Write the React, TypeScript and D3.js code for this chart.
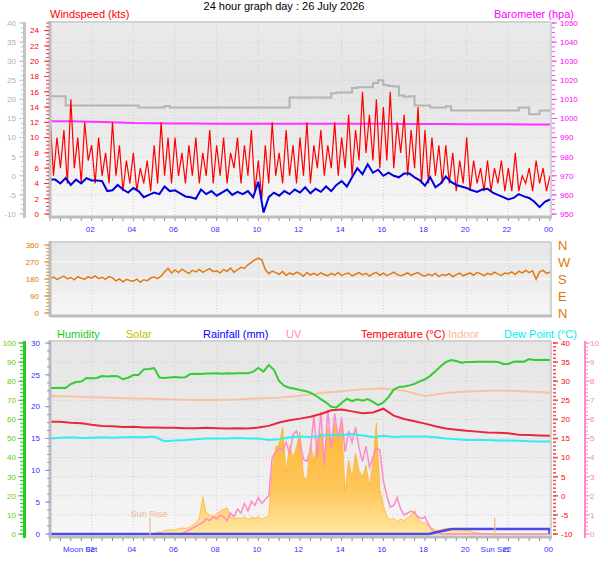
import React from 'react';
import * as d3 from 'd3';

const FONT = '"Liberation Sans", Arial, sans-serif';

// x axis (hours)
const hourTicks = [2, 4, 6, 8, 10, 12, 14, 16, 18, 20, 22, 24];
const hourLabels = ['02', '04', '06', '08', '10', '12', '14', '16', '18', '20', '22', '00'];

// axis tick values
const greyTicks = [-10, -5, 0, 5, 10, 15, 20, 25, 30, 35, 40];
const windTicks = [0, 2, 4, 6, 8, 10, 12, 14, 16, 18, 20, 22, 24];
const baroTicks = [950, 960, 970, 980, 990, 1000, 1010, 1020, 1030, 1040, 1050];
const dirTicks = [0, 90, 180, 270, 360];
const dirLetters = ['N', 'E', 'S', 'W', 'N'];
const humTicks = [0, 10, 20, 30, 40, 50, 60, 70, 80, 90, 100];
const rainTicks = [0, 5, 10, 15, 20, 25, 30];
const tempTicks = [-10, -5, 0, 5, 10, 15, 20, 25, 30, 35, 40];
const uvTicks = [0, 1, 2, 3, 4, 5, 6, 7, 8, 9, 10];

// windspeed (kts), every 10 minutes
const windGust = [
  13, 5, 10, 6, 11, 4,
  15, 6, 10, 4, 12, 7,
  9, 4, 10, 5, 8, 4,
  12, 5, 9, 3, 7, 4,
  8, 3, 6, 4, 7, 3,
  9, 4, 12, 5, 10, 4,
  10, 5, 8, 4, 9, 5,
  10, 4, 8, 5, 11, 4,
  9, 5, 10, 4, 8, 6,
  10, 4, 9, 5, 11, 3,
  7, 2, 9, 4, 12, 5,
  8, 4, 11, 5, 9, 4,
  10, 5, 12, 4, 9, 6,
  11, 5, 9, 6, 12, 5,
  10, 6, 13, 5, 11, 7,
  16, 8, 13, 7, 15, 6,
  14, 7, 16, 6, 12, 8,
  13, 5, 11, 6, 14, 4,
  11, 4, 10, 5, 9, 4,
  9, 4, 8, 3, 7, 4,
  10, 3, 7, 4, 6, 3,
  7, 3, 6, 4, 7, 3,
  6, 3, 8, 3, 5, 4,
  6, 3, 7, 4, 6, 3,
  5,
];

// average windspeed (kts), every 15 minutes
const windAvg = [
  4.5, 4.5, 4.0, 4.7, 3.8, 4.5, 4.0, 4.7, 4.4, 4.4, 4.3, 3.0,
  3.1, 3.8, 3.2, 2.8, 3.4, 3.0, 2.2, 2.5, 2.8, 2.6, 3.6, 3.0,
  3.1, 2.7, 2.3, 2.2, 2.0, 3.2, 2.6, 3.0, 2.4, 2.8, 3.2, 2.5,
  2.9, 2.6, 3.0, 2.2, 4.2, 0.2, 2.2, 2.8, 2.4, 3.0, 2.6, 3.2,
  2.8, 3.5, 2.7, 3.3, 2.9, 3.6, 3.0, 3.8, 4.3, 3.6, 4.8, 6.0,
  5.2, 6.5, 5.4, 5.8, 5.0, 5.4, 5.0, 4.8, 5.3, 5.3, 4.8, 4.4,
  3.7, 4.8, 3.5, 4.0, 4.9, 4.2, 3.8, 3.6, 3.4, 3.1, 2.9, 3.2,
  3.3, 2.8, 2.5, 2.2, 1.9, 2.1, 2.6, 2.3, 2.1, 1.6, 0.9, 1.6,
  1.9,
];

// grey trace on the outer left scale, every 15 minutes
const greyTrace = [
  20.8, 20.8, 20.8, 18.4, 18.4, 18.4, 18.4, 18.4, 18.4, 18.4, 18.4, 18.4,
  18.4, 18.4, 18.4, 18.4, 18.4, 17.9, 17.9, 17.9, 17.9, 17.9, 18.3, 17.9,
  17.9, 17.9, 17.9, 17.9, 17.9, 17.9, 17.9, 17.9, 17.9, 17.9, 17.9, 17.9,
  17.9, 17.9, 17.9, 17.9, 17.9, 17.9, 17.9, 17.9, 17.9, 17.9, 20.5, 20.5,
  20.5, 20.5, 20.5, 20.5, 20.5, 20.5, 21.6, 21.8, 21.8, 21.8, 23.0, 23.2,
  23.2, 23.2, 24.3, 25.0, 23.8, 23.5, 23.4, 21.0, 20.7, 20.8, 18.4, 18.4,
  18.4, 17.9, 17.9, 17.9, 18.2, 17.1, 17.1, 17.1, 17.1, 17.1, 17.1, 17.1,
  17.1, 17.1, 17.1, 17.1, 17.1, 17.1, 17.9, 17.9, 16.1, 16.1, 17.1, 17.1,
  17.1,
];

// barometer (hpa), hourly
const baro = [
  998.6, 998.5, 998.3, 998.0, 997.6, 997.5, 997.4, 997.4, 997.3, 997.3, 997.3, 997.2,
  997.2, 997.2, 997.3, 997.2, 997.2, 997.1, 997.1, 997.1, 997.0, 997.0, 997.0, 996.9,
  996.9,
];

// wind direction (degrees), every 10 minutes
const windDir = [
  183, 190, 178, 186, 195, 180,
  188, 176, 192, 184, 179, 191,
  185, 196, 182, 189, 178, 193,
  186, 170, 181, 165, 178, 172,
  168, 180, 163, 176, 171, 185,
  190, 182, 195, 218, 236, 212,
  228, 214, 232, 220, 209, 226,
  218, 231, 215, 226, 235, 219,
  224, 212, 230, 221, 238, 216,
  229, 242, 236, 255, 268, 282,
  290, 282, 230, 208, 222, 214,
  205, 219, 198, 212, 203, 216,
  208, 195, 214, 201, 210, 199,
  213, 204, 197, 210, 200, 215,
  198, 207, 212, 196, 205, 214,
  202, 210, 196, 208, 215, 200,
  211, 198, 206, 216, 203, 197,
  204, 212, 199, 208, 214, 201,
  195, 206, 198, 210, 193, 204,
  199, 208, 192, 203, 211, 197,
  205, 212, 200, 215, 207, 198,
  210, 203, 216, 206, 199, 212,
  208, 218, 204, 221, 212, 226,
  214, 224, 178, 218, 226, 210,
  216,
];

// humidity (%), every 15 minutes
const humidity = [
  76.4, 76.4, 76.6, 76.4, 78.5, 79.6, 79.8, 81.7, 81.5, 81.7, 82.7, 82.5,
  82.7, 82.6, 81.0, 81.8, 83.2, 83.3, 86.2, 86.4, 86.9, 81.9, 81.7, 82.0,
  82.2, 81.9, 82.1, 83.8, 83.9, 83.8, 84.0, 84.0, 84.1, 83.9, 84.1, 84.0,
  84.1, 84.2, 84.1, 85.0, 86.9, 85.0, 88.5, 86.0, 80.0, 77.5, 76.6, 76.0,
  75.4, 74.9, 74.0, 72.5, 70.6, 68.8, 66.6, 66.2, 68.6, 70.8, 69.6, 70.5,
  69.8, 70.6, 69.2, 67.5, 68.9, 71.7, 75.6, 77.0, 77.2, 77.8, 78.6, 79.9,
  81.0, 82.8, 85.2, 87.8, 90.0, 91.1, 90.6, 89.7, 90.0, 90.0, 90.2, 90.2,
  90.2, 90.2, 90.1, 89.0, 89.0, 90.2, 90.3, 90.2, 91.6, 91.1, 91.1, 91.2,
  91.1,
];

// indoor temperature (°C), hourly
const indoor = [
  26.1, 26.0, 25.8, 25.7, 25.5, 25.4, 25.2, 25.1, 25.1, 25.2, 25.5, 25.7,
  26.2, 26.9, 27.4, 27.9, 28.1, 27.5, 26.1, 26.9, 27.3, 27.5, 27.5, 27.3,
  27.0,
];

// outdoor temperature (°C), every 30 minutes
const temperature = [
  19.4, 19.4, 19.1, 19.0, 18.6, 18.3, 18.2, 18.0, 18.1, 17.9, 17.9, 17.8,
  17.8, 17.7, 17.7, 17.8, 17.7, 17.6, 17.7, 17.6, 17.9, 18.3, 19.2, 19.8,
  20.2, 20.7, 21.4, 22.4, 22.6, 22.1, 21.6, 21.8, 22.8, 21.0, 20.1, 19.5,
  18.9, 18.2, 17.6, 17.3, 17.0, 16.8, 16.6, 16.5, 16.4, 16.0, 15.9, 15.8,
  15.7,
];

// dew point (°C), every 30 minutes
const dewPoint = [
  15.0, 15.2, 15.3, 15.1, 15.2, 15.3, 15.2, 15.3, 15.4, 15.3, 15.5, 14.3,
  14.5, 14.6, 14.8, 15.0, 15.0, 15.0, 15.1, 15.0, 15.0, 14.6, 14.8, 15.3,
  15.5, 15.4, 15.7, 15.9, 15.9, 16.2, 15.8, 15.4, 15.7, 15.4, 15.5, 15.5,
  15.5, 15.3, 15.0, 14.8, 14.6, 14.6, 14.6, 14.5, 14.5, 14.4, 14.3, 14.2,
  14.2,
];

// solar (W/m²), every 10 minutes
const solar = [
  0, 0, 0, 0, 0, 0,
  0, 0, 0, 0, 0, 0,
  0, 0, 0, 0, 0, 0,
  0, 0, 0, 0, 0, 0,
  0, 0, 0, 0, 0, 0,
  0, 12, 8, 18, 21, 22,
  20, 28, 31, 30, 33, 45,
  57, 80, 194, 110, 100, 92,
  105, 118, 130, 136, 90, 78,
  85, 80, 92, 75, 88, 82,
  90, 78, 86, 95, 335, 455,
  470, 560, 320, 462, 400, 455,
  534, 300, 283, 470, 380, 492,
  529, 400, 560, 450, 581, 480,
  581, 215, 387, 290, 424, 330,
  298, 360, 250, 372, 581, 230,
  150, 90, 75, 82, 65, 78,
  70, 85, 95, 125, 80, 60,
  57, 45, 30, 22, 18, 25,
  28, 30, 26, 24, 27, 22,
  18, 15, 10, 6, 4, 3,
  2, 2, 1, 0, 0, 0,
  0, 0, 0, 0, 0, 0,
  0, 0, 0, 0, 0, 0,
  0,
];

// UV index, every 10 minutes
const uv = [
  0, 0, 0, 0, 0, 0,
  0, 0, 0, 0, 0, 0,
  0, 0, 0, 0, 0, 0,
  0, 0, 0, 0, 0, 0,
  0, 0, 0, 0, 0, 0,
  0, 0, 0, 0, 0, 0,
  0, 0, 0, 0.1, 0.2, 0.3,
  0.4, 0.5, 0.6, 0.8, 0.7, 0.9,
  0.8, 1.0, 0.9, 0.7, 1.1, 0.9,
  1.3, 1.1, 1.6, 1.2, 1.7, 1.5,
  1.9, 1.6, 1.8, 2.0, 4.0, 4.3,
  4.5, 4.4, 4.8, 4.2, 5.2, 5.4,
  4.8, 3.9, 3.8, 4.4, 6.2, 4.0,
  6.4, 3.6, 6.5, 4.5, 6.3, 5.0,
  6.1, 4.3, 5.4, 4.8, 5.6, 4.5,
  3.8, 4.6, 3.5, 4.0, 4.5, 4.4,
  2.8, 2.0, 1.4, 1.5, 1.9, 1.3,
  1.0, 1.1, 1.2, 1.1, 0.9, 0.8,
  0.9, 0.5, 0.2, 0.1, 0.05, 0,
  0, 0, 0, 0, 0, 0,
  0, 0, 0, 0, 0, 0,
  0, 0, 0, 0, 0, 0,
  0, 0, 0, 0, 0, 0,
  0, 0, 0, 0, 0, 0,
  0,
];

// rainfall (mm) breakpoints
const rainHours = [0, 18.2, 18.6, 19.0, 19.3, 23.95, 24];
const rainMm = [0, 0, 0.3, 0.6, 0.8, 0.8, 0];

// sun / moon events (hours)
const sunRise = 4.8;
const sunSet = 21.35;
const moonSet = 1.45;

type P = [number, number];
type Scale = d3.ScaleLinear<number, number>;

const pts = (vals: number[], step: number): P[] => vals.map((v, i) => [i * step, v]);

function VAxis({
  scale, major, minorStep, majorX, minorX, tickColor, tickWidth = 1,
  labelX, anchor, labelColor, fontSize = 8, labels,
}: {
  scale: Scale; major: number[]; minorStep: number; majorX: [number, number]; minorX: [number, number];
  tickColor: string; tickWidth?: number; labelX: number; anchor: 'start' | 'end';
  labelColor: string; fontSize?: number; labels?: string[];
}) {
  const [lo, hi] = scale.domain();
  const minor = d3.range(lo, hi + 1e-9, minorStep);
  return (
    <g>
      {minor.map((v, i) => (
        <line key={'m' + i} x1={minorX[0]} x2={minorX[1]} y1={scale(v)} y2={scale(v)} stroke={tickColor} strokeWidth={tickWidth} />
      ))}
      {major.map((v, i) => (
        <line key={'M' + i} x1={majorX[0]} x2={majorX[1]} y1={scale(v)} y2={scale(v)} stroke={tickColor} strokeWidth={tickWidth} />
      ))}
      {major.map((v, i) => (
        <text key={'t' + i} x={labelX} y={scale(v)} dy="0.35em" textAnchor={anchor} fill={labelColor} fontSize={fontSize}>
          {labels ? labels[i] : v}
        </text>
      ))}
    </g>
  );
}

const PL = 50;
const PR = 551;

function Frame({ y0, y1 }: { y0: number; y1: number }) {
  return (
    <g>
      <line x1={PL} x2={PR} y1={y0} y2={y0} stroke="#d2d2d2" strokeWidth={2} />
      <line x1={PR} x2={PR} y1={y0} y2={y1} stroke="#d2d2d2" strokeWidth={2} />
      <line x1={PL} x2={PL} y1={y0 - 1} y2={y1 + 1} stroke="#bdbdbd" strokeWidth={3} />
      <line x1={PL} x2={PR + 1} y1={y1} y2={y1} stroke="#bdbdbd" strokeWidth={3} />
    </g>
  );
}

export default function App() {
  const x = d3.scaleLinear().domain([0, 24]).range([50, 550]);

  // panel 1
  const T0 = 22, B0 = 217;
  const yWind = d3.scaleLinear().domain([0, 25]).range([214, 23]);
  const yGrey = d3.scaleLinear().domain([-10, 40]).range([214, 23]);
  const yBaro = d3.scaleLinear().domain([950, 1050]).range([214, 23]);

  // panel 2
  const T1 = 242, B1 = 316;
  const yDir = d3.scaleLinear().domain([0, 360]).range([313, 245]);

  // panel 3
  const T2 = 341, B2 = 537;
  const yHum = d3.scaleLinear().domain([0, 100]).range([534, 343]);
  const yRain = d3.scaleLinear().domain([0, 30]).range([534, 343]);
  const yTemp = d3.scaleLinear().domain([-10, 40]).range([534, 343]);
  const yUV = d3.scaleLinear().domain([0, 10]).range([534, 343]);
  const ySolar = d3.scaleLinear().domain([0, 1000]).range([534, 343]);

  const line = (ys: Scale, curve: d3.CurveFactory = d3.curveLinear) =>
    d3.line<P>().x(d => x(d[0])).y(d => ys(d[1])).curve(curve);

  const solarArea = d3.area<P>().x(d => x(d[0])).y0(ySolar(0)).y1(d => ySolar(d[1]));

  const halfHours = d3.range(0, 24.01, 0.5);
  const gridHours = hourTicks;

  return (
    <div style={{ position: 'absolute', left: 0, top: 0 }}>
      <svg width={608} height={561} style={{ display: 'block', background: '#ffffff', fontFamily: FONT }}>
        <defs>
          <linearGradient id="bg1" x1="0" y1="0" x2="0" y2="1">
            <stop offset="0" stopColor="#ebebeb" />
            <stop offset="0.3" stopColor="#e3e3e3" />
            <stop offset="0.6" stopColor="#ececec" />
            <stop offset="1" stopColor="#f8f8f8" />
          </linearGradient>
          <linearGradient id="bg2" x1="0" y1="0" x2="0" y2="1">
            <stop offset="0" stopColor="#e6e6e6" />
            <stop offset="0.5" stopColor="#ebebeb" />
            <stop offset="1" stopColor="#f7f7f7" />
          </linearGradient>
          <linearGradient id="solarFill" gradientUnits="userSpaceOnUse" x1="0" y1="420" x2="0" y2="534">
            <stop offset="0" stopColor="#ffb634" />
            <stop offset="0.6" stopColor="#ffc65a" />
            <stop offset="1" stopColor="#ffe7a0" />
          </linearGradient>
          <clipPath id="c1"><rect x={PL} y={T0} width={PR - PL} height={B0 - T0} /></clipPath>
          <clipPath id="c2"><rect x={PL} y={T1} width={PR - PL} height={B1 - T1} /></clipPath>
          <clipPath id="c3"><rect x={PL} y={T2} width={PR - PL} height={B2 - T2} /></clipPath>
        </defs>

        <text x={284} y={10} textAnchor="middle" fontSize={11} fill="#000">24 hour graph day : 26 July 2026</text>

        {/* ---------- panel 1: wind + barometer ---------- */}
        <text x={50} y={17.5} fontSize={11} fill="#ff0000">Windspeed (kts)</text>
        <text x={574} y={17.5} fontSize={11} fill="#ff00ff" textAnchor="end">Barometer (hpa)</text>
        <rect x={PL} y={T0} width={PR - PL} height={B0 - T0} fill="url(#bg1)" />
        <g stroke="#d0d0d0" strokeDasharray="1,2">
          {gridHours.map(h => <line key={h} x1={x(h)} x2={x(h)} y1={T0} y2={B0} />)}
          {greyTicks.slice(1, -1).map(v => <line key={v} x1={PL} x2={PR} y1={yGrey(v)} y2={yGrey(v)} />)}
        </g>
        <g clipPath="url(#c1)" fill="none">
          <path d={line(yGrey, d3.curveStepAfter)(pts(greyTrace, 0.25)) || ''} stroke="#b4b4b4" strokeWidth={2} />
          <path d={line(yBaro)(pts(baro, 1)) || ''} stroke="#ff33ff" strokeWidth={2} />
          <path d={line(yWind)(pts(windGust, 1 / 6)) || ''} stroke="#ff0000" strokeWidth={1.2} />
          <path d={line(yWind)(pts(windAvg, 0.25)) || ''} stroke="#0000dd" strokeWidth={2} />
        </g>
        <Frame y0={T0} y1={B0} />
        <g stroke="#9a9a9a">
          {halfHours.map(h => <line key={h} x1={x(h)} x2={x(h)} y1={B0 + 1} y2={B0 + 4} />)}
        </g>
        <rect x={23} y={T0} width={3} height={B0 - T0 + 1} fill="#c4c4c4" />
        <VAxis scale={yGrey} major={greyTicks} minorStep={1.25} majorX={[19, 24]} minorX={[21, 24]}
          tickColor="#c4c4c4" labelX={16} anchor="end" labelColor="#b0b0b0" />
        <VAxis scale={yWind} major={windTicks} minorStep={0.5} majorX={[44, 49]} minorX={[46, 49]}
          tickColor="#ff3030" labelX={39} anchor="end" labelColor="#ff0000" />
        <VAxis scale={yBaro} major={baroTicks} minorStep={2.5} majorX={[552, 557]} minorX={[552, 555]}
          tickColor="#ff40ff" labelX={560} anchor="start" labelColor="#ff00ff" />
        {hourTicks.map((h, i) => (
          <text key={h} x={x(h) - 1.5} y={232} textAnchor="middle" fontSize={8} fill="#3333ff">{hourLabels[i]}</text>
        ))}

        {/* ---------- panel 2: wind direction ---------- */}
        <rect x={PL} y={T1} width={PR - PL} height={B1 - T1} fill="url(#bg2)" />
        <g stroke="#d0d0d0" strokeDasharray="1,2">
          {gridHours.map(h => <line key={h} x1={x(h)} x2={x(h)} y1={T1} y2={B1} />)}
        </g>
        <g stroke="#fbfbfb">
          {dirTicks.slice(1, -1).map(v => <line key={v} x1={PL} x2={PR} y1={yDir(v)} y2={yDir(v)} />)}
        </g>
        <g clipPath="url(#c2)" fill="none">
          <path d={line(yDir)(pts(windDir, 1 / 6)) || ''} stroke="#e07a14" strokeWidth={1.5} />
        </g>
        <Frame y0={T1} y1={B1} />
        <VAxis scale={yDir} major={dirTicks} minorStep={18} majorX={[44, 49]} minorX={[46, 49]}
          tickColor="#e88a2a" labelX={39} anchor="end" labelColor="#e07800" />
        {dirTicks.map((v, i) => (
          <text key={v} x={558} y={yDir(v)} dy="0.36em" fontSize={13} fill="#e07800">{dirLetters[i]}</text>
        ))}

        {/* ---------- panel 3: temperature, humidity, solar ... ---------- */}
        <text x={57} y={337.5} fontSize={11} fill="#22cc22">Humidity</text>
        <text x={126} y={337.5} fontSize={11} fill="#c8b800">Solar</text>
        <text x={203} y={337.5} fontSize={11} fill="#0000ff">Rainfall (mm)</text>
        <text x={286} y={337.5} fontSize={11} fill="#ff88cc">UV</text>
        <text x={361} y={337.5} fontSize={11} fill="#ff0000">Temperature (°C)</text>
        <text x={448} y={337.5} fontSize={11} fill="#f4b898">Indoor</text>
        <text x={504} y={337.5} fontSize={11} fill="#00eeee">Dew Point (°C)</text>

        <rect x={PL} y={T2} width={PR - PL} height={B2 - T2} fill="url(#bg2)" />
        <g stroke="#d0d0d0" strokeDasharray="1,2">
          {gridHours.map(h => <line key={h} x1={x(h)} x2={x(h)} y1={T2} y2={B2} />)}
          {humTicks.slice(1, -1).map(v => <line key={v} x1={PL} x2={PR} y1={yHum(v)} y2={yHum(v)} />)}
        </g>
        <g clipPath="url(#c3)">
          <path d={solarArea(pts(solar, 1 / 6)) || ''} fill="url(#solarFill)" stroke="#ffb232" strokeWidth={0.8} />
          <g fill="none">
            <path d={line(yUV)(pts(uv, 1 / 6)) || ''} stroke="#ff8ac8" strokeWidth={1.5} />
            <path d={line(yTemp)(pts(indoor, 1)) || ''} stroke="#f7c2a4" strokeWidth={2} />
            <path d={line(yHum)(pts(humidity, 0.25)) || ''} stroke="#33cc33" strokeWidth={2} />
            <path d={line(yTemp)(pts(temperature, 0.5)) || ''} stroke="#e8283c" strokeWidth={2} />
            <path d={line(yTemp)(pts(dewPoint, 0.5)) || ''} stroke="#33eeee" strokeWidth={2} />
            <path d={line(yRain)(rainHours.map((h, i) => [h, rainMm[i]] as P)) || ''} stroke="#4a4ae6" strokeWidth={2.5} />
          </g>
          <line x1={x(sunRise)} x2={x(sunRise)} y1={518} y2={B2} stroke="#f4b890" strokeWidth={1.3} />
          <line x1={x(sunSet)} x2={x(sunSet)} y1={518} y2={B2} stroke="#f4b890" strokeWidth={1.3} />
        </g>
        <text x={x(sunRise) - 1} y={517} textAnchor="middle" fontSize={9} fill="#f4b890">Sun Rise</text>
        <Frame y0={T2} y1={B2} />
        <g stroke="#8a8a8a">
          {halfHours.map(h => <line key={h} x1={x(h)} x2={x(h)} y1={B2 + 1} y2={B2 + 4} />)}
        </g>

        <rect x={23} y={T2} width={3} height={B2 - T2 + 1} fill="#22cc22" />
        <VAxis scale={yHum} major={humTicks} minorStep={2} majorX={[18, 24]} minorX={[20, 24]}
          tickColor="#22cc22" labelX={16} anchor="end" labelColor="#66cc00" />
        <VAxis scale={yRain} major={rainTicks} minorStep={1.25} majorX={[45, 50]} minorX={[47, 50]}
          tickColor="#8c8cff" labelX={40} anchor="end" labelColor="#3030ff" />
        <VAxis scale={yTemp} major={tempTicks} minorStep={1} majorX={[553, 558]} minorX={[553, 556]}
          tickColor="#ff4848" tickWidth={1.5} labelX={561} anchor="start" labelColor="#ff0000" />
        <rect x={584} y={T2} width={2} height={B2 - T2 + 1} fill="#ff8ac8" />
        <VAxis scale={yUV} major={uvTicks} minorStep={0.2} majorX={[586, 590]} minorX={[586, 588]}
          tickColor="#ff8ac8" labelX={590} anchor="start" labelColor="#ff80c0" />

        {hourTicks.map((h, i) => (
          <text key={h} x={x(h) - 1.5} y={552} textAnchor="middle" fontSize={8} fill="#3333ff">{hourLabels[i]}</text>
        ))}
        <text x={x(moonSet)} y={552} textAnchor="middle" fontSize={8} fill="#3333ff">Moon Set</text>
        <text x={x(sunSet)} y={552} textAnchor="middle" fontSize={8} fill="#3333ff">Sun Set</text>
      </svg>
    </div>
  );
}
